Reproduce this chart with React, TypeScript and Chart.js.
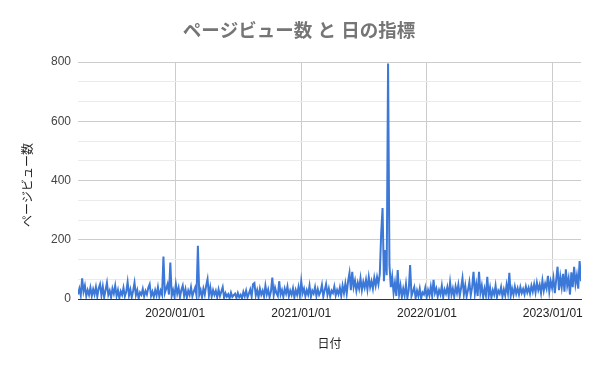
import React, { useEffect, useRef } from "react";
import { Chart, registerables } from "chart.js";

Chart.register(...registerables);

// ---- data ----
const chartTitle = "ページビュー数 と 日の指標";
const xAxisTitle = "日付";
const yAxisTitle = "ページビュー数";
const startDate = "2019-03-25";
const stepDays = 4;
const xTickLabels = ["2020/01/01", "2021/01/01", "2022/01/01", "2023/01/01"];
const yMax = 800;
const yMajorStep = 200;
const yMinorPerMajor = 3;

// page views, one reading every 4 days
const pageViews = [
  15, 35, 12, 70, 25, 45, 10, 30, 14, 38, 10, 33, 15, 40, 8, 36, 50, 12, 42, 6, 30,
  55, 14, 28, 5, 35, 18, 45, 10, 30, 3, 26, 14, 38, 9, 24, 57, 12, 32, 6, 28, 55, 13, 30, 2, 22, 14, 34, 9, 27, 15, 38, 50, 10, 25, 7, 30, 12, 40, 8, 28,
  14, 143, 20, 35, 50, 15, 123, 10, 30, 8, 50, 18, 38, 6, 30,
  45, 10, 33, 5, 28, 14, 40, 9, 25, 38, 12, 180, 14, 30, 6, 35, 15, 45, 67, 12, 40, 8, 30, 14, 28,
  6, 32, 10, 25, 40, 4, 20, 8, 16, 2, 22, 7, 13, 18, 3, 20, 6, 14, 2, 24, 9, 28, 5, 18, 32, 8,
  50, 54, 12, 30, 5, 35, 14, 28, 8, 45, 15, 32, 6, 25, 72, 12, 38, 20, 10, 60, 15, 30, 7, 35, 18, 42, 9, 28, 14, 36, 5, 30, 14, 40,
  10, 60, 20, 35, 9, 30, 15, 45, 7, 28, 18, 40, 10, 33, 14, 25, 48, 8, 30, 50, 14, 35, 9, 28, 20, 42, 12, 30, 16, 38, 10, 45, 20, 52, 18,
  60, 88, 30, 92, 40, 62, 28, 55, 35, 70, 30, 58, 38, 65, 32, 74, 40, 60, 35, 72, 45, 74, 50, 85,
  222, 307, 60, 165, 80, 795, 115, 40, 75, 20, 55, 10, 98,
  15, 45, 6, 35, 12, 50, 4, 30, 115, 10, 25, 40, 3, 28, 10, 35, 2, 22, 15, 38, 6, 30, 12, 42, 9, 65, 20, 35, 8, 30, 15, 45, 6, 32, 18, 40, 9, 56, 14, 35, 7, 42, 20, 48, 10, 38, 70, 15, 45, 8, 30, 57, 12, 40, 92, 18, 50, 10,
  92, 20, 45, 6, 35, 12, 75, 10, 38, 4, 30, 15, 45, 6, 28, 18, 40, 8, 32, 12, 48, 20, 88, 10, 35, 14, 42, 18, 36, 15, 40, 20, 34, 16, 42, 22, 38, 18, 45, 25,
  50, 22, 55, 30, 48, 20, 62, 28, 52, 35, 78, 25, 60, 38, 70, 20, 65, 109, 30, 75, 40, 85, 25, 100, 45, 70, 15, 90, 40, 109, 50, 80, 35, 128, 60,
];

const DAY = 86400000;
const parseDate = (s: string) => {
  const [y, m, d] = s.split(/[-/]/).map(Number);
  return Date.UTC(y, m - 1, d);
};

const FONT = "'Liberation Sans', Arial, 'Noto Sans CJK JP', sans-serif";

const textPlugin = {
  id: "customText",
  afterDraw(chart: any) {
    const { ctx, chartArea } = chart;
    ctx.save();
    ctx.textAlign = "center";
    ctx.textBaseline = "middle";
    ctx.fillStyle = "#757575";
    ctx.font = `bold 18.5px ${FONT}`;
    ctx.fillText(chartTitle, 299, 32);
    ctx.fillStyle = "#222222";
    ctx.font = `12px ${FONT}`;
    ctx.fillText(xAxisTitle, (chartArea.left + chartArea.right) / 2, 345);
    ctx.translate(29, 185);
    ctx.rotate(-Math.PI / 2);
    ctx.fillText(yAxisTitle, 0, 0);
    ctx.restore();
  },
};

export default function App() {
  const ref = useRef<HTMLCanvasElement | null>(null);

  useEffect(() => {
    if (!ref.current) return;
    const t0 = parseDate(startDate);
    const points = pageViews.map((v, i) => ({ x: t0 + i * stepDays * DAY, y: v }));
    const xTicks = xTickLabels.map(parseDate);
    const nMinor = (yMax / yMajorStep) * yMinorPerMajor;

    const chart = new Chart(ref.current, {
      type: "line",
      data: {
        datasets: [
          {
            data: points,
            borderColor: "#3c78d8",
            backgroundColor: "#3c78d8",
            borderWidth: 2,
            pointRadius: 0,
            tension: 0,
          },
        ],
      },
      options: {
        animation: false,
        responsive: false,
        events: [],
        layout: { padding: { left: 0, top: 62, right: 19, bottom: 0 } },
        plugins: { legend: { display: false }, title: { display: false }, tooltip: { enabled: false } },
        scales: {
          x: {
            type: "linear",
            min: points[0].x,
            max: points[points.length - 1].x,
            afterBuildTicks: (scale: any) => {
              scale.ticks = xTicks.map((v) => ({ value: v }));
            },
            afterFit: (scale: any) => {
              scale.height = 72;
            },
            grid: { color: "#cccccc", drawTicks: false },
            border: { color: "#333333", width: 1 },
            ticks: {
              autoSkip: false,
              maxRotation: 0,
              padding: 7,
              color: "#222222",
              font: { size: 12, family: FONT },
              callback: (_v: any, i: number) => xTickLabels[i],
            },
          },
          y: {
            type: "linear",
            min: 0,
            max: yMax,
            afterBuildTicks: (scale: any) => {
              const t = [];
              for (let k = 0; k <= nMinor; k++) t.push({ value: (k * yMax) / nMinor });
              scale.ticks = t;
            },
            afterFit: (scale: any) => {
              scale.width = 78;
            },
            grid: {
              drawTicks: false,
              color: (c: any) => (c.index === 0 ? "#333333" : c.index % yMinorPerMajor === 0 ? "#cccccc" : "#ebebeb"),
            },
            border: { display: false },
            ticks: {
              autoSkip: false,
              padding: 7,
              color: "#444444",
              font: { size: 12, family: FONT },
              callback: (v: any, i: number) => (i % yMinorPerMajor === 0 ? String(Math.round(v)) : ""),
            },
          },
        },
      },
      plugins: [textPlugin],
    });
    return () => chart.destroy();
  }, []);

  return (
    <div style={{ position: "absolute", left: 0, top: 0, width: 600, height: 371, background: "#fff" }}>
      <canvas ref={ref} width={600} height={371} />
    </div>
  );
}
